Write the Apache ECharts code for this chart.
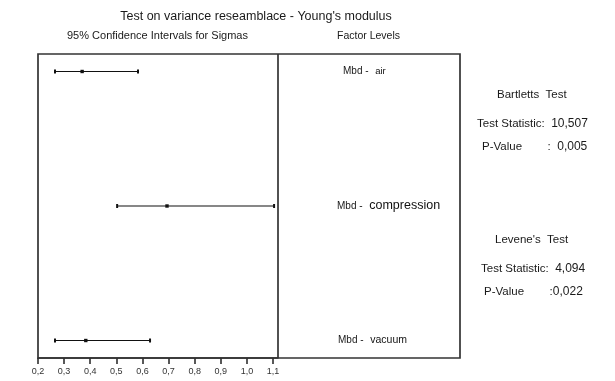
<!DOCTYPE html>
<html>
<head>
<meta charset="utf-8">
<script src="https://cdn.jsdelivr.net/npm/echarts@6/dist/echarts.min.js"></script>
<style>
html,body{margin:0;padding:0;background:#fff;}
#chart{width:615px;height:381px;}
</style>
</head>
<body>
<div id="chart"></div>
<script>
// ---- data ----
const levels = ['air', 'compression', 'vacuum'];
const lowerCI = [0.265, 0.503, 0.265];
const sigma   = [0.369, 0.694, 0.383];
const upperCI = [0.583, 1.104, 0.629];
const xTicks  = [0.2, 0.3, 0.4, 0.5, 0.6, 0.7, 0.8, 0.9, 1.0, 1.1];
const bartlett = { name: "Bartletts  Test", stat: "10,507", p: "0,005" };
const levene   = { name: "Levene's  Test", stat: "4,094", p: "0,022" };
const titleText = "Test on variance reseamblace - Young's modulus";
const ciTitle = "95% Confidence Intervals for Sigmas";
const factorTitle = "Factor Levels";

// ---- layout / style (not data) ----
const FONT = "'Liberation Sans', Arial, sans-serif";
const X_MAX = 1.119;
const labelDistance = [65, 59, 60];
const levelFontSize = [9.5, 12.5, 10.5];

const ciData = levels.map((l, i) => [i + 1, lowerCI[i], sigma[i], upperCI[i]]);
const labelData = levels.map((l, i) => ({
  value: [X_MAX, i + 1], name: l,
  label: {
    distance: labelDistance[i],
    color: '#111',
    rich: {
      a: { fontSize: 10, fontFamily: FONT, color: '#1a1a1a' },
      b: { fontSize: levelFontSize[i], fontFamily: FONT, color: '#111' }
    }
  }
}));

const chart = echarts.init(document.getElementById('chart'), null, { renderer: 'canvas' });

function txt(text, x, y, size, align) {
  return {
    type: 'text', x: x, y: y, silent: true,
    style: { text: text, fontSize: size, fontFamily: FONT, fill: '#1a1a1a',
             textAlign: align || 'left', textVerticalAlign: 'middle' }
  };
}
function statTxt(label, value, x, y) {
  return {
    type: 'text', x: x, y: y, silent: true,
    style: {
      text: '{l|' + label + '}{v|' + value + '}',
      fontFamily: FONT, textVerticalAlign: 'middle',
      rich: {
        l: { fontSize: 11.5, fontFamily: FONT, fill: '#1a1a1a' },
        v: { fontSize: 12, fontFamily: FONT, fill: '#1a1a1a' }
      }
    }
  };
}

chart.setOption({
  backgroundColor: '#ffffff',
  animation: false,
  grid: { left: 38, top: 54, width: 240, height: 304, containLabel: false },
  xAxis: {
    type: 'value', min: 0.2, max: X_MAX, interval: 0.1,
    axisLine: { show: true, lineStyle: { color: '#222', width: 1.5 } },
    axisTick: { show: true, length: 6, lineStyle: { color: '#222', width: 1.5 } },
    splitLine: { show: false },
    axisLabel: {
      fontSize: 9, color: '#333', fontFamily: FONT, margin: 9, showMaxLabel: false,
      formatter: v => {
        const t = xTicks.find(k => Math.abs(k - v) < 1e-6);
        return t === undefined ? '' : t.toFixed(1).replace('.', ',');
      }
    }
  },
  yAxis: { type: 'value', min: 0.87, max: 3.13, inverse: true, show: false },
  graphic: [
    { type: 'rect', shape: { x: 38, y: 54, width: 422, height: 304 }, silent: true,
      style: { fill: 'none', stroke: '#333', lineWidth: 1.7 }, z: 10 },
    { type: 'line', shape: { x1: 278, y1: 54, x2: 278, y2: 358 }, silent: true,
      style: { stroke: '#333', lineWidth: 1.7 }, z: 10 },
    txt(titleText, 256, 17, 12.5, 'center'),
    txt(ciTitle, 67, 36, 11),
    txt(factorTitle, 337, 36, 10.5),
    txt(bartlett.name, 497, 95, 11.5),
    statTxt('Test Statistic:  ', bartlett.stat, 477, 124),
    statTxt('P-Value        :  ', bartlett.p, 482, 147),
    txt(levene.name, 495, 240, 11.5),
    statTxt('Test Statistic:  ', levene.stat, 481, 269),
    statTxt('P-Value        :', levene.p, 484, 292)
  ],
  series: [
    {
      type: 'custom',
      data: ciData,
      clip: false,
      renderItem: function (params, api) {
        const y = api.value(0);
        const lo = api.coord([api.value(1), y]);
        const md = api.coord([api.value(2), y]);
        const hi = api.coord([api.value(3), y]);
        const st = { stroke: '#111', lineWidth: 1.2 };
        return {
          type: 'group',
          children: [
            { type: 'line', shape: { x1: lo[0], y1: lo[1], x2: hi[0], y2: hi[1] }, style: st },
            { type: 'rect', shape: { x: lo[0] - 1, y: lo[1] - 2, width: 2, height: 4 }, style: { fill: '#111' } },
            { type: 'rect', shape: { x: hi[0] - 1, y: hi[1] - 2, width: 2, height: 4 }, style: { fill: '#111' } },
            { type: 'rect', shape: { x: md[0] - 1.7, y: md[1] - 1.7, width: 3.4, height: 3.4 }, style: { fill: '#111' } }
          ]
        };
      }
    },
    {
      type: 'scatter',
      data: labelData,
      symbolSize: 0,
      clip: false,
      silent: true,
      label: {
        show: true, position: 'right', distance: 60, color: '#111', opacity: 1,
        formatter: p => '{a|Mbd -}  {b|' + p.name + '}'
      }
    }
  ]
});
</script>
</body>
</html>
